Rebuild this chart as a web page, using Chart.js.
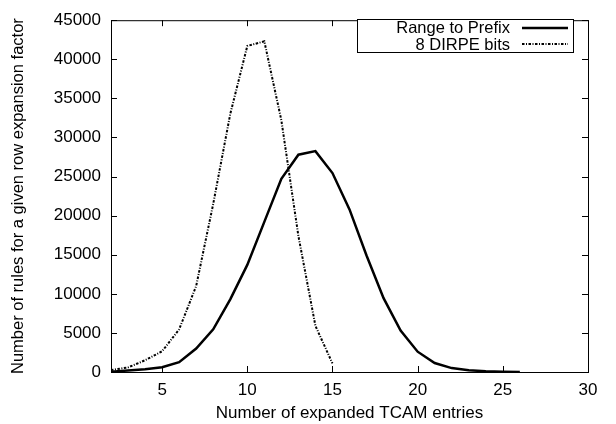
<!DOCTYPE html>
<html>
<head>
<meta charset="utf-8">
<script src="https://cdn.jsdelivr.net/npm/chart.js@4"></script>
<style>
  html, body { margin: 0; padding: 0; background: #fff; }
  #chart { display: block; }
</style>
</head>
<body>
<canvas id="chart" width="616" height="424"></canvas>
<script>
/* ─────────────────────────────────────────────────────────────
   DATA
───────────────────────────────────────────────────────────── */

const prefixX = [2, 3, 4, 5, 6, 7, 8, 9, 10, 11, 12, 13, 14, 15, 16, 17, 18, 19, 20, 21, 22, 23, 24, 25, 26];
const prefixY = [30, 200, 340, 620, 1250, 3000, 5450, 9300, 13700, 19200, 24700, 27800, 28250, 25450,
                 20800, 14900, 9450, 5300, 2600, 1150, 500, 230, 90, 30, 10];

const dirpeX = [2, 3, 4, 5, 6, 7, 8, 9, 10, 11, 12, 13, 14, 15];
const dirpeY = [250, 590, 1500, 2650, 5450, 11000, 21500, 33000, 41700, 42300, 32200, 17400, 5900, 1100];

const xTicks = [5, 10, 15, 20, 25, 30];
const yTicks = [0, 5000, 10000, 15000, 20000, 25000, 30000, 35000, 40000, 45000];

const seriesLabels = ['Range to Prefix', '8 DIRPE bits'];

const FONT = 'Liberation Sans, Arial, Helvetica, sans-serif';
const INK  = '#000';

const pts = (xs, ys) => xs.map((x, i) => ({ x: x, y: ys[i] }));


/* ─────────────────────────────────────────────────────────────
   gnuplot-ish frame, inward ticks and legend box
───────────────────────────────────────────────────────────── */

const framePlugin = {
  id: 'frame',
  afterDraw(chart) {
    const { ctx, chartArea: a, scales } = chart;
    ctx.save();
    ctx.strokeStyle = INK;
    ctx.lineWidth = 1;
    ctx.setLineDash([]);
    ctx.strokeRect(a.left + 0.5, a.top + 0.5, a.right - a.left, a.bottom - a.top);

    const tl = 6;
    ctx.beginPath();
    xTicks.forEach(v => {
      const px = Math.round(scales.x.getPixelForValue(v)) + 0.5;
      ctx.moveTo(px, a.bottom); ctx.lineTo(px, a.bottom - tl);
      ctx.moveTo(px, a.top);    ctx.lineTo(px, a.top + tl);
    });
    yTicks.forEach(v => {
      const py = Math.round(scales.y.getPixelForValue(v)) + 0.5;
      ctx.moveTo(a.left, py);  ctx.lineTo(a.left + tl, py);
      ctx.moveTo(a.right, py); ctx.lineTo(a.right - tl, py);
    });
    ctx.stroke();

    // legend: text right aligned, sample line on the right
    const box = { l: 357.5, t: 19.5, r: 573.5, b: 52.5 };
    ctx.fillStyle = '#fff';
    ctx.fillRect(box.l, box.t, box.r - box.l, box.b - box.t);
    ctx.strokeRect(box.l, box.t, box.r - box.l, box.b - box.t);

    ctx.font = '16.5px ' + FONT;
    ctx.textAlign = 'right';
    ctx.textBaseline = 'alphabetic';
    chart.data.datasets.forEach((ds, i) => {
      const y = 27.5 + i * 16.5;
      ctx.fillStyle = INK;
      ctx.fillText(ds.label, 510, y + 5.5);
      ctx.beginPath();
      ctx.lineWidth = ds.borderWidth;
      ctx.setLineDash(ds.borderDash || []);
      ctx.moveTo(522, Math.round(y));
      ctx.lineTo(568, Math.round(y));
      ctx.stroke();
    });
    ctx.restore();
  }
};


/* ─────────────────────────────────────────────────────────────
   CHART
───────────────────────────────────────────────────────────── */

new Chart(document.getElementById('chart'), {
  type: 'line',
  data: {
    datasets: [
      { label: seriesLabels[0], data: pts(prefixX, prefixY), borderColor: INK, borderWidth: 2.5,
        pointRadius: 0, tension: 0, fill: false },
      { label: seriesLabels[1], data: pts(dirpeX, dirpeY), borderColor: INK, borderWidth: 2,
        borderDash: [2.5, 1.5, 1, 1.5], pointRadius: 0, tension: 0, fill: false }
    ]
  },
  options: {
    responsive: false,
    animation: false,
    devicePixelRatio: 1,
    layout: { padding: { left: 0, top: 13, right: 28, bottom: 0 } },
    plugins: { legend: { display: false }, tooltip: { enabled: false } },
    scales: {
      x: {
        type: 'linear', min: 2, max: 30,
        afterBuildTicks: s => { s.ticks = xTicks.map(v => ({ value: v })); },
        afterFit: s => { s.height = 52; },
        grid: { display: false, drawTicks: false },
        border: { display: false },
        ticks: { color: INK, padding: 8, maxRotation: 0, font: { family: FONT, size: 17 } },
        title: { display: true, text: 'Number of expanded TCAM entries', color: INK,
                 padding: { top: 0, bottom: 0 }, font: { family: FONT, size: 17 } }
      },
      y: {
        type: 'linear', min: 0, max: 45000,
        afterBuildTicks: s => { s.ticks = yTicks.map(v => ({ value: v })); },
        afterFit: s => { s.width = 111; },
        grid: { display: false, drawTicks: false },
        border: { display: false },
        ticks: { color: INK, padding: 10, font: { family: FONT, size: 17 }, callback: v => String(v) },
        title: { display: true, text: 'Number of rules for a given row expansion factor', color: INK,
                 padding: { top: 9, bottom: 0 }, font: { family: FONT, size: 16.5 } }
      }
    }
  },
  plugins: [framePlugin]
});
</script>
</body>
</html>
